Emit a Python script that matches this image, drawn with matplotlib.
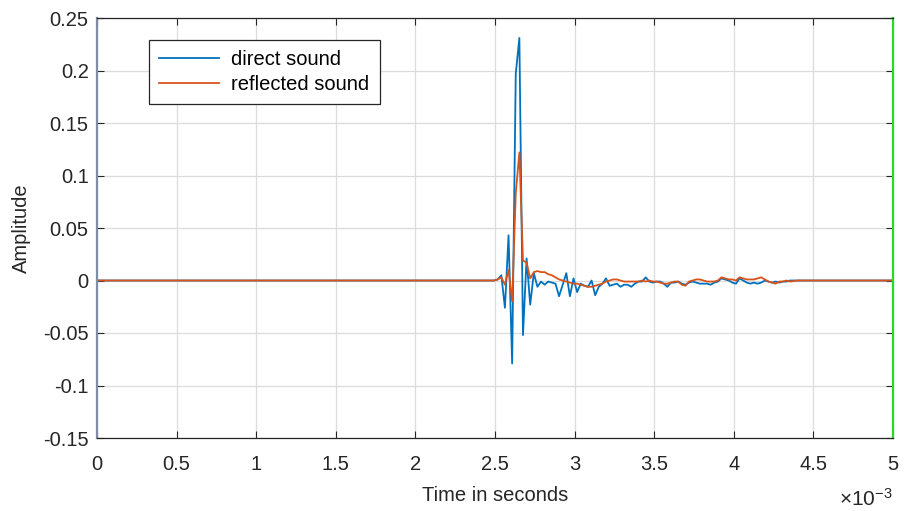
import numpy as np
import matplotlib
matplotlib.use("Agg")
import matplotlib.pyplot as plt
from matplotlib.ticker import FixedLocator, FuncFormatter

plt.rcParams['font.family'] = ['Liberation Sans', 'DejaVu Sans']
plt.rcParams['mathtext.fontset'] = 'custom'
plt.rcParams['mathtext.rm'] = 'Liberation Sans'
plt.rcParams['mathtext.it'] = 'Liberation Sans'

# ---------------- data ----------------
fs = 44100                 # sampling rate (Hz)
n_samples = 221            # 0 .. 5 ms
start_index = 110          # first sample of the listed segment

direct_sound = [0.000, 0.001, 0.005, -0.026, 0.043, -0.079, 0.197, 0.231, -0.052, 0.021,
                -0.023, 0.007, -0.006, -0.001, -0.004, -0.001, -0.002, -0.003, -0.015, -0.004,
                0.007, -0.015, 0.002, -0.011, -0.003, -0.005, -0.006, 0.000, -0.014, -0.006,
                -0.003, 0.002, -0.005, -0.004, -0.003, -0.006, -0.004, -0.004, -0.006, -0.003,
                -0.001, -0.001, 0.003, -0.001, -0.002, -0.001, -0.001, -0.003, -0.006, -0.002,
                -0.002, -0.001, -0.003, -0.004, -0.002, -0.001, -0.002, -0.003, -0.003, -0.003,
                -0.004, -0.002, -0.001, 0.002, 0.001, 0.000, -0.002, -0.003, 0.002, 0.000,
                -0.002, -0.003, -0.002, -0.003, -0.002, 0.000, -0.001, -0.002, -0.001, -0.002,
                -0.001, -0.001, 0.000, 0.000, 0.000]

reflected_sound = [0.000, 0.001, 0.003, -0.004, 0.010, -0.020, 0.083, 0.122, 0.019, 0.017,
                   0.002, 0.008, 0.009, 0.008, 0.008, 0.006, 0.005, 0.003, 0.001, 0.000,
                   -0.001, -0.002, -0.003, -0.003, -0.004, -0.005, -0.006, -0.006, -0.005, -0.004,
                   -0.003, -0.001, 0.000, 0.001, 0.001, 0.000, -0.001, -0.001, -0.001, -0.001,
                   -0.001, 0.000, -0.001, 0.000, -0.001, -0.001, -0.002, -0.003, -0.003, -0.002,
                   -0.001, -0.001, -0.004, -0.005, -0.001, 0.000, 0.001, 0.001, 0.000, -0.001,
                   -0.001, -0.001, 0.000, 0.003, 0.002, 0.001, 0.001, 0.000, 0.003, 0.002,
                   0.001, 0.001, 0.001, 0.002, 0.003, 0.001, -0.001, -0.002, -0.003, -0.001,
                   -0.001, 0.000, -0.001, -0.0005, 0.000, 0.000]

x_ticks = [0, 0.5e-3, 1e-3, 1.5e-3, 2e-3, 2.5e-3, 3e-3, 3.5e-3, 4e-3, 4.5e-3, 5e-3]
y_ticks = [-0.15, -0.1, -0.05, 0, 0.05, 0.1, 0.15, 0.2, 0.25]
series_labels = ['direct sound', 'reflected sound']

# build full signals
t = np.arange(n_samples) / fs
sig_direct = np.zeros(n_samples)
sig_direct[start_index:start_index + len(direct_sound)] = direct_sound
sig_reflected = np.zeros(n_samples)
sig_reflected[start_index:start_index + len(reflected_sound)] = reflected_sound

# ---------------- plot ----------------
FS = 14.5
fig = plt.figure(figsize=(9.06, 5.11), dpi=100)
ax = fig.add_axes([97/906, 1 - 438/511, 796/906, 420/511])

ax.plot(t, sig_direct, color='#0072BD', lw=1.3, label=series_labels[0])
ax.plot(t, sig_reflected, color='#D95319', lw=1.3, label=series_labels[1])

ax.set_xlim(0, 5e-3)
ax.set_ylim(-0.15, 0.25)
ax.xaxis.set_major_locator(FixedLocator(x_ticks))
ax.yaxis.set_major_locator(FixedLocator(y_ticks))
ax.xaxis.set_major_formatter(FuncFormatter(lambda v, p: f"{v*1e3:g}"))
ax.yaxis.set_major_formatter(FuncFormatter(lambda v, p: f"{v:g}"))

ax.grid(True, color='#dcdcdc', lw=0.9)
ax.set_axisbelow(True)
ax.tick_params(direction='in', length=5, width=0.8, top=True, right=True,
               labelsize=FS, colors='#262626')
ax.tick_params(axis='x', pad=12)
ax.tick_params(axis='y', pad=6)

for side in ['top', 'bottom']:
    ax.spines[side].set_color('#262626')
    ax.spines[side].set_linewidth(0.9)
ax.spines['left'].set_color('#7f8ea6')
ax.spines['left'].set_linewidth(1.6)
ax.spines['right'].set_color('#22dd22')
ax.spines['right'].set_linewidth(1.6)

ax.set_xlabel('Time in seconds', fontsize=FS, color='#262626', labelpad=9)
ax.set_ylabel('Amplitude', fontsize=FS, color='#262626', labelpad=9)
ax.text(1.0, -0.12, r'$\times10^{-3}$', transform=ax.transAxes, ha='right', va='top',
        fontsize=FS + 0.5, color='#262626')

leg = ax.legend(loc='upper left', bbox_to_anchor=(0.065, 0.948), borderaxespad=0,
                fontsize=FS, handlelength=3.0, frameon=True, fancybox=False,
                edgecolor='#262626', framealpha=1, borderpad=0.5, labelspacing=0.3,
                handletextpad=0.6)
leg.get_frame().set_linewidth(0.9)

fig.savefig('out.png', dpi=100)
